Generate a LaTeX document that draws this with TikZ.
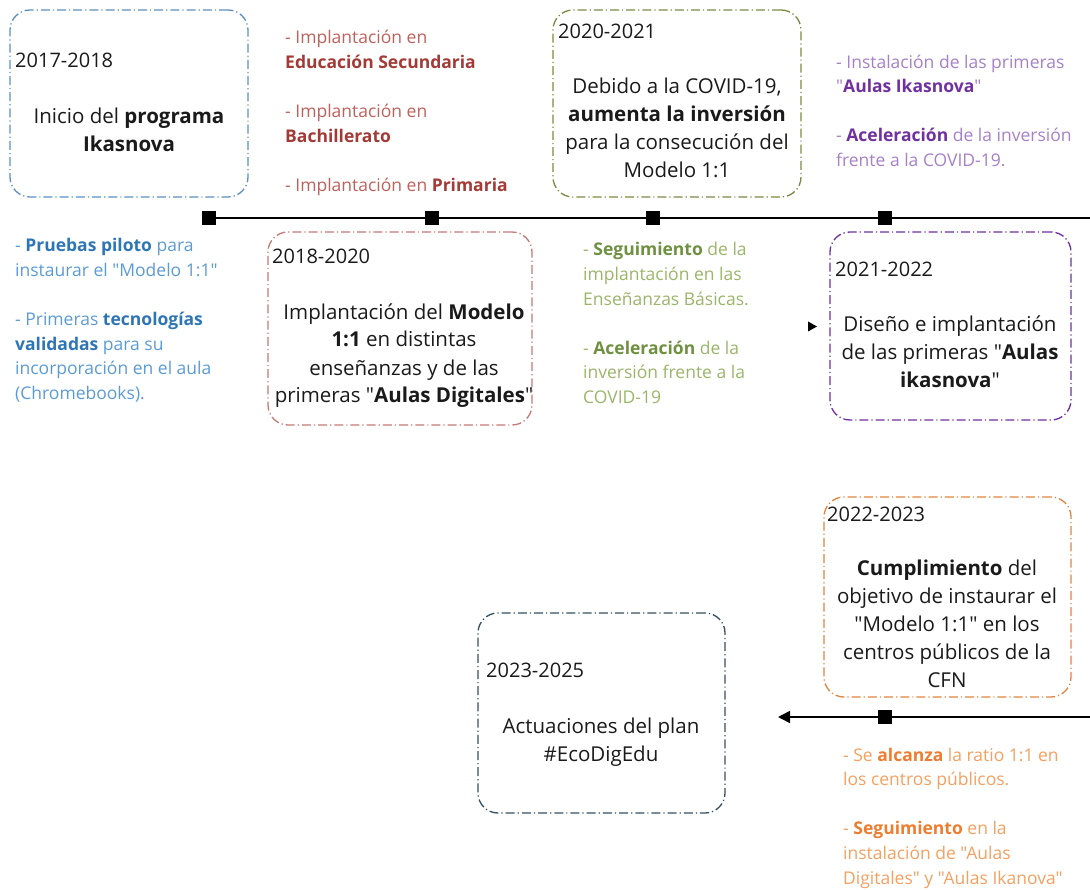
\documentclass[tikz,border=0pt]{standalone}
\usepackage{fontspec}
\setmainfont{Open Sans}[Ligatures=TeXOff]
\usetikzlibrary{arrows.meta}
\newcommand{\dq}{"}
\definecolor{bBlue}{HTML}{5E8FBE}
\definecolor{tBlueL}{HTML}{5B9BD5}
\definecolor{tBlueB}{HTML}{2E75B6}
\definecolor{bRed}{HTML}{C47A76}
\definecolor{tRedL}{HTML}{C0605A}
\definecolor{tRedB}{HTML}{A33A36}
\definecolor{bGreen}{HTML}{7A8A45}
\definecolor{tGreenL}{HTML}{9AB56A}
\definecolor{tGreenB}{HTML}{6E9040}
\definecolor{bPurple}{HTML}{7030A0}
\definecolor{tPurpleL}{HTML}{A680C8}
\definecolor{tPurpleB}{HTML}{7030A0}
\definecolor{bOrange}{HTML}{E0843F}
\definecolor{tOrangeL}{HTML}{F4A060}
\definecolor{tOrangeB}{HTML}{ED7D31}
\definecolor{bTeal}{HTML}{34505F}
\definecolor{txt}{HTML}{1A1A1A}
\tikzset{
  yearbox/.style={draw=#1, line width=1.3pt, rounded corners=20pt,
    dash pattern=on 9pt off 3pt on 1.2pt off 3pt, inner sep=0pt},
  yearlbl/.style={anchor=base west, inner sep=0pt, text=txt,
    font=\fontsize{20}{24}\selectfont},
  bodytxt/.style={anchor=base, inner sep=0pt, align=center, text=txt,
    font=\fontsize{20.5}{28}\selectfont},
  sidetxt/.style={anchor=base west, inner sep=0pt, align=left,
    font=\fontsize{17.5}{24.6}\selectfont},
  sq/.style={fill=black, minimum size=14pt, inner sep=0pt},
  tl/.style={line width=1.6pt}
}
\begin{document}
\begin{tikzpicture}[x=1pt,y=-1pt]
\useasboundingbox (0,0) rectangle (1090,890);
% boxes
\node[yearbox=bBlue, minimum width=238pt, minimum height=187pt] (b1) at (129,103.5) {};
\node[yearbox=bRed, minimum width=264pt, minimum height=193pt] (b2) at (400,328.5) {};
\node[yearbox=bGreen, minimum width=248pt, minimum height=187pt] (b3) at (677,103.5) {};
\node[yearbox=bPurple, minimum width=241pt, minimum height=188pt] (b4) at (950.5,326) {};
\node[yearbox=bOrange, minimum width=247pt, minimum height=200pt] (b5) at (947.5,597) {};
\node[yearbox=bTeal, minimum width=247pt, minimum height=200pt] (b6) at (601.5,713) {};
% year labels
\node[yearlbl] (y1) at (15,68) {2017-2018};
\node[yearlbl] (y2) at (272,264) {2018-2020};
\node[yearlbl] (y3) at (558,39) {2020-2021};
\node[yearlbl] (y4) at (835,277) {2021-2022};
\node[yearlbl] (y5) at (827,521) {2022-2023};
\node[yearlbl] (y6) at (486,677) {2023-2025};
% body texts (anchored at last line's baseline)
\node[bodytxt] (t1) at (129,152) {Inicio del \textbf{programa}\\\textbf{Ikasnova}};
\node[bodytxt] (t2) at (404,403) {Implantación del \textbf{Modelo}\\\textbf{1:1} en distintas\\enseñanzas y de las\\primeras \dq\textbf{Aulas Digitales}\dq};
\node[bodytxt] (t3) at (677,178) {Debido a la COVID-19,\\\textbf{aumenta la inversión}\\para la consecución del\\Modelo 1:1};
\node[bodytxt] (t4) at (950,388) {Diseño e implantación\\de las primeras \dq\textbf{Aulas}\\\textbf{ikasnova}\dq};
\node[bodytxt] (t5) at (947,687) {\textbf{Cumplimiento} del\\objetivo de instaurar el\\\dq Modelo 1:1\dq{} en los\\centros públicos de la\\CFN};
\node[bodytxt] (t6) at (601,761) {Actuaciones del plan\\\#EcoDigEdu};
% side texts (anchored at last line's baseline)
\node[sidetxt, text=tRedL] (s1) at (285,191.5) {- Implantación en\\\textcolor{tRedB}{\textbf{Educación Secundaria}}\\[24.6pt]- Implantación en\\\textcolor{tRedB}{\textbf{Bachillerato}}\\[24.6pt]- Implantación en \textcolor{tRedB}{\textbf{Primaria}}};
\node[sidetxt, text=tBlueL] (s2) at (15,399.5) {- \textcolor{tBlueB}{\textbf{Pruebas piloto}} para\\instaurar el \dq Modelo 1:1\dq\\[24.6pt]- Primeras \textcolor{tBlueB}{\textbf{tecnologías}}\\\textcolor{tBlueB}{\textbf{validadas}} para su\\incorporación en el aula\\(Chromebooks).};
\node[sidetxt, text=tGreenL] (s3) at (583,403.5) {- \textcolor{tGreenB}{\textbf{Seguimiento}} de la\\implantación en las\\Enseñanzas Básicas.\\[24.6pt]- \textcolor{tGreenB}{\textbf{Aceleración}} de la\\inversión frente a la\\COVID-19};
\node[sidetxt, text=tPurpleL] (s4) at (836,166.5) {- Instalación de las primeras\\\dq\textcolor{tPurpleB}{\textbf{Aulas Ikasnova}}\dq\\[24.6pt]- \textcolor{tPurpleB}{\textbf{Aceleración}} de la inversión\\frente a la COVID-19.};
\node[sidetxt, text=tOrangeL] (s5) at (843,884) {- Se \textcolor{tOrangeB}{\textbf{alcanza}} la ratio 1:1 en\\los centros públicos.\\[24.6pt]- \textcolor{tOrangeB}{\textbf{Seguimiento}} en la\\instalación de \dq Aulas\\Digitales\dq{} y \dq Aulas Ikanova\dq};
% timeline
\node[sq] (m1) at (209,218) {};
\node[sq] (m2) at (432,218) {};
\node[sq] (m3) at (653,218) {};
\node[sq] (m4) at (885,218) {};
\coordinate (e1) at (1090,218);
\draw[tl] (m1.center) -- (m2.center) -- (m3.center) -- (m4.center) -- (e1);
\node[sq] (m5) at (885,717) {};
\coordinate (e2) at (1090,717);
\coordinate (e3) at (778,717);
\draw[tl, -{Triangle[length=12pt,width=12pt]}] (e2) -- (m5.center) -- (e3);
% small stray arrowhead
\fill (808,321.5) -- (817,326.5) -- (808,331.5) -- cycle;
\end{tikzpicture}
\end{document}
